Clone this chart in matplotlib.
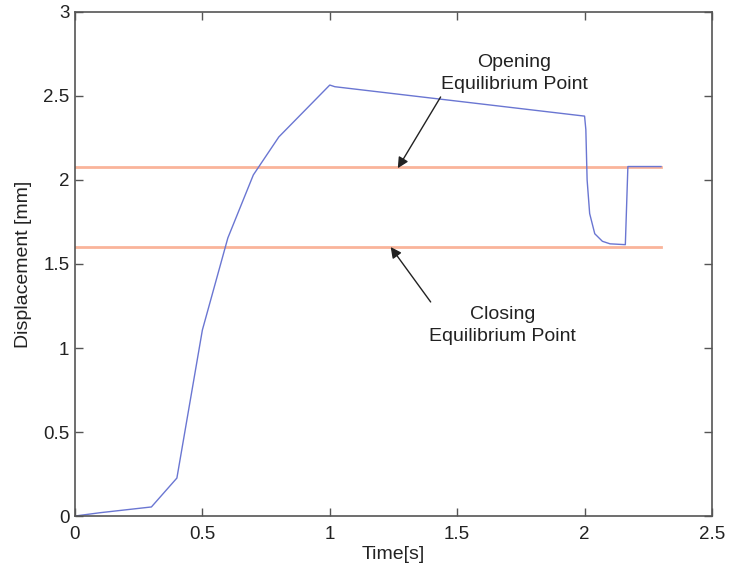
import matplotlib
matplotlib.use("Agg")
import matplotlib.pyplot as plt

plt.rcParams['font.family'] = ['Liberation Sans', 'DejaVu Sans']

# Valve displacement trace
time_s = [0.0, 0.1, 0.3, 0.4, 0.5, 0.6, 0.7, 0.8, 1.0, 1.02, 2.0, 2.005,
          2.01, 2.02, 2.04, 2.07, 2.1, 2.16, 2.17, 2.3]
displacement_mm = [0.0, 0.02, 0.054, 0.226, 1.107, 1.655, 2.03, 2.256, 2.565,
                   2.555, 2.38, 2.3, 2.0, 1.8, 1.68, 1.635, 1.62, 1.615, 2.08, 2.08]

# Equilibrium levels
opening_level = 2.08
closing_level = 1.60
level_span = [0.0, 2.3]

x_ticks = [0, 0.5, 1, 1.5, 2, 2.5]
y_ticks = [0, 0.5, 1, 1.5, 2, 2.5, 3]

fig = plt.figure(figsize=(7.30, 5.69), dpi=100)
ax = fig.add_axes([0.1027, 0.0931, 0.8726, 0.8859])

ax.plot(level_span, [opening_level] * 2, color='#fab49a', lw=2.0)
ax.plot(level_span, [closing_level] * 2, color='#fab49a', lw=2.0)
ax.plot(time_s, displacement_mm, color='#6a76d2', lw=1.0)

ax.set_xlim(0, 2.5)
ax.set_ylim(0, 3)
ax.set_xticks(x_ticks)
ax.set_xticklabels(['0', '0.5', '1', '1.5', '2', '2.5'])
ax.set_yticks(y_ticks)
ax.set_yticklabels(['0', '0.5', '1', '1.5', '2', '2.5', '3'])
ax.tick_params(direction='in', length=6, width=1, color='#555555',
               labelsize=13.5, top=True, right=True, pad=4, labelcolor='#222222')
ax.tick_params(axis='x', pad=7)
for s in ax.spines.values():
    s.set_color('#555555')
    s.set_linewidth(1.2)

ax.set_xlabel('Time[s]', fontsize=14, labelpad=2, color='#222222')
ax.set_ylabel('Displacement [mm]', fontsize=14, labelpad=8, color='#222222')

arrow_style = dict(arrowstyle='-|>', color='#222222', lw=1.0,
                   mutation_scale=16, shrinkA=0, shrinkB=0)

ax.text(1.725, 2.634, 'Opening\nEquilibrium Point', ha='center', va='center',
        fontsize=14, linespacing=1.35, color='#222222')
ax.annotate('', xy=(1.267, 2.07), xytext=(1.435, 2.494), arrowprops=arrow_style)

ax.text(1.678, 1.134, 'Closing\nEquilibrium Point', ha='center', va='center',
        fontsize=14, linespacing=1.35, color='#222222')
ax.annotate('', xy=(1.239, 1.601), xytext=(1.396, 1.274), arrowprops=arrow_style)

fig.savefig('out.png', dpi=100, facecolor='white')
